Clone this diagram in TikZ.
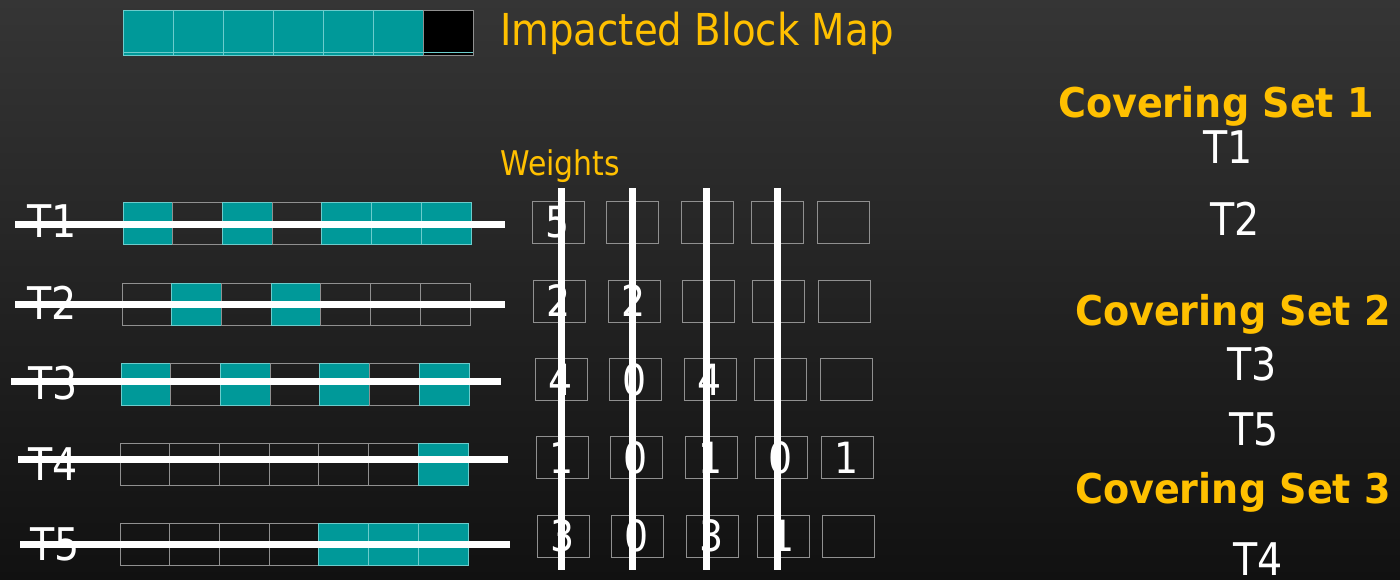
\documentclass[tikz,border=0pt]{standalone}
\usepackage{fontspec}
\setmainfont[FakeStretch=0.88]{DejaVu Sans}
\newfontfamily\cvfont[FakeStretch=0.93]{DejaVu Sans Bold}
\definecolor{bgtop}{HTML}{353535}
\definecolor{bgbot}{HTML}{111111}
\definecolor{tealc}{HTML}{009999}
\definecolor{tealline}{HTML}{6CCCCC}
\definecolor{greyline}{HTML}{909090}
\definecolor{orangec}{HTML}{FFC000}
\tikzset{
  cellon/.style={draw=tealline, fill=tealc, line width=0.8pt, minimum width=49.7pt, minimum height=42pt, inner sep=0pt},
  celloff/.style={draw=greyline, line width=0.8pt, minimum width=49.7pt, minimum height=42pt, inner sep=0pt},
  mapon/.style={draw=tealline, fill=tealc, line width=0.8pt, minimum width=50pt, minimum height=45pt, inner sep=0pt},
  mapoff/.style={draw=greyline, fill=black, line width=0.8pt, minimum width=50pt, minimum height=45pt, inner sep=0pt},
  wbox/.style={draw=greyline, line width=1pt, minimum width=52pt, minimum height=42pt, inner sep=0pt, text=white, font=\fontsize{43}{46}\selectfont},
  tlabel/.style={text=white, inner sep=0pt, font=\fontsize{45}{48}\selectfont},
  otext/.style={text=orangec, inner sep=0pt},
  cvtext/.style={text=orangec, inner sep=0pt, font=\cvfont\fontsize{41}{44}\selectfont},
  strike/.style={draw=white, line width=7pt},
}
\begin{document}
\begin{tikzpicture}[x=1pt,y=-1pt]
\useasboundingbox (0,0) rectangle (1400,579);
\shade[top color=bgtop, bottom color=bgbot] (0,0) rectangle (1400,579);

% Impacted block map
\foreach \i in {0,...,5} {
  \node[mapon] (m\i) at (123+50*\i+25,32.5) {};
}
\node[mapoff] (m6) at (123+300+25,32.5) {};
\draw[tealline, line width=0.8pt] (m0.south west) ++(0,-3.5) coordinate (mstrip) -- (m6.south east |- mstrip);
\node[otext, anchor=base west, font=\fontsize{44}{48}\selectfont] (ibm) at (500,45) {Impacted Block Map};

% test rows
\foreach \r/\yc/\xs/\pat in {1/223/123/{1,0,1,0,1,1,1}, 2/304/122/{0,1,0,1,0,0,0}, 3/384/121/{1,0,1,0,1,0,1}, 4/464/120/{0,0,0,0,0,0,1}, 5/544/120/{0,0,0,0,1,1,1}} {
  \foreach \b [count=\i from 0] in \pat {
    \ifnum\b=1
      \node[cellon] (c\r-\i) at (\xs+49.7*\i+24.85,\yc) {};
    \else
      \node[celloff] (c\r-\i) at (\xs+49.7*\i+24.85,\yc) {};
    \fi
  }
}

% labels
\node[tlabel, anchor=base west] (t1) at (27,237) {T1};
\node[tlabel, anchor=base west] (t2) at (27,319) {T2};
\node[tlabel, anchor=base west] (t3) at (28,399) {T3};
\node[tlabel, anchor=base west] (t4) at (28,480) {T4};
\node[tlabel, anchor=base west] (t5) at (30,560) {T5};

% weights
\node[otext, anchor=base west, font=\fontsize{34}{38}\selectfont] (wt) at (500,175) {Weights};

\foreach \r/\yc/\xa/\xb/\xc/\xd/\xe/\va/\vb/\vc/\vd/\ve in {
  1/222.5/532/606/681/751/817/5/{}/{}/{}/{},
  2/301/533/608/682/752/818/2/2/{}/{}/{},
  3/379.5/535/609/684/754/820/4/0/4/{}/{},
  4/457.5/536/610/685/755/821/1/0/1/0/1,
  5/536/537/611/686/757/822/3/0/3/1/{}} {
  \node[wbox] (w\r-1) at (\xa+26,\yc) {\va};
  \node[wbox] (w\r-2) at (\xb+26,\yc) {\vb};
  \node[wbox] (w\r-3) at (\xc+26,\yc) {\vc};
  \node[wbox] (w\r-4) at (\xd+26,\yc) {\vd};
  \node[wbox] (w\r-5) at (\xe+26,\yc) {\ve};
}

% strike lines
\coordinate (s1a) at (15,224);  \coordinate (s1b) at (505,224);
\coordinate (s2a) at (15,304);  \coordinate (s2b) at (505,304);
\coordinate (s3a) at (11,381);  \coordinate (s3b) at (501,381);
\coordinate (s4a) at (18,459);  \coordinate (s4b) at (508,459);
\coordinate (s5a) at (20,544);  \coordinate (s5b) at (510,544);
\foreach \k in {1,...,5} { \draw[strike] (s\k a) -- (s\k b); }

\coordinate (v1a) at (561,188); \coordinate (v1b) at (561,570);
\coordinate (v2a) at (632,188); \coordinate (v2b) at (632,570);
\coordinate (v3a) at (706,188); \coordinate (v3b) at (706,570);
\coordinate (v4a) at (777,188); \coordinate (v4b) at (777,570);
\foreach \k in {1,...,4} { \draw[strike] (v\k a) -- (v\k b); }

% covering sets
\node[cvtext, anchor=base] (cs1) at (1216,117) {Covering Set 1};
\node[tlabel, anchor=base] (r1) at (1228,163) {T1};
\node[tlabel, anchor=base] (r2) at (1235,235) {T2};
\node[cvtext, anchor=base] (cs2) at (1233,325) {Covering Set 2};
\node[tlabel, anchor=base] (r3) at (1252,380) {T3};
\node[tlabel, anchor=base] (r5) at (1254,445) {T5};
\node[cvtext, anchor=base] (cs3) at (1233,503) {Covering Set 3};
\node[tlabel, anchor=base] (r4) at (1258,575) {T4};
\end{tikzpicture}
\end{document}
